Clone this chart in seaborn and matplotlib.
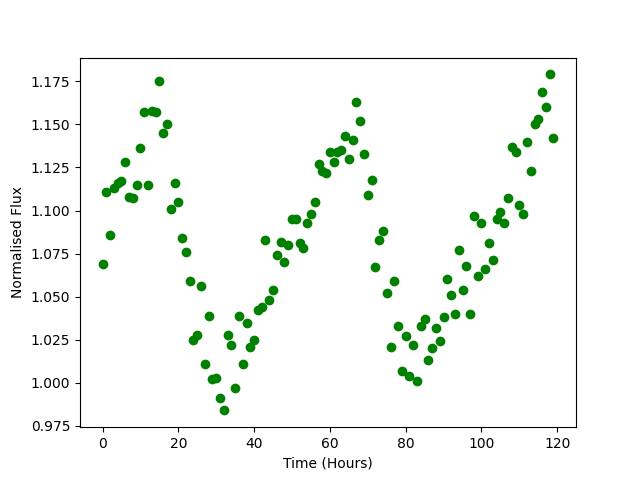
import matplotlib
matplotlib.use("Agg")
import matplotlib.pyplot as plt
import seaborn as sns
import pandas as pd

time_hours = list(range(120))
flux = [
    1.069, 1.111, 1.086, 1.113, 1.116, 1.117, 1.128, 1.108, 1.107, 1.115,
    1.136, 1.157, 1.115, 1.158, 1.157, 1.175, 1.145, 1.150, 1.101, 1.116,
    1.105, 1.084, 1.076, 1.059, 1.025, 1.028, 1.056, 1.011, 1.039, 1.002,
    1.003, 0.991, 0.984, 1.028, 1.022, 0.997, 1.039, 1.011, 1.035, 1.021,
    1.025, 1.042, 1.044, 1.083, 1.048, 1.054, 1.074, 1.082, 1.070, 1.080,
    1.095, 1.095, 1.081, 1.078, 1.093, 1.098, 1.105, 1.127, 1.123, 1.122,
    1.134, 1.128, 1.134, 1.135, 1.143, 1.130, 1.141, 1.163, 1.152, 1.133,
    1.109, 1.118, 1.067, 1.083, 1.088, 1.052, 1.021, 1.059, 1.033, 1.007,
    1.027, 1.004, 1.022, 1.001, 1.033, 1.037, 1.013, 1.020, 1.032, 1.024,
    1.038, 1.060, 1.051, 1.040, 1.077, 1.054, 1.068, 1.040, 1.097, 1.062,
    1.093, 1.066, 1.081, 1.071, 1.095, 1.099, 1.093, 1.107, 1.137, 1.134,
    1.103, 1.098, 1.140, 1.123, 1.150, 1.153, 1.169, 1.160, 1.179, 1.142,
]

df = pd.DataFrame({"Time (Hours)": time_hours, "Normalised Flux": flux})

fig, ax = plt.subplots(figsize=(6.4, 4.8), dpi=100)
sns.scatterplot(data=df, x="Time (Hours)", y="Normalised Flux", ax=ax,
                color="green", s=36, edgecolor="green", linewidth=1)
ax.set_xlabel("Time (Hours)")
ax.set_ylabel("Normalised Flux")
fig.savefig("out.png", dpi=100)
